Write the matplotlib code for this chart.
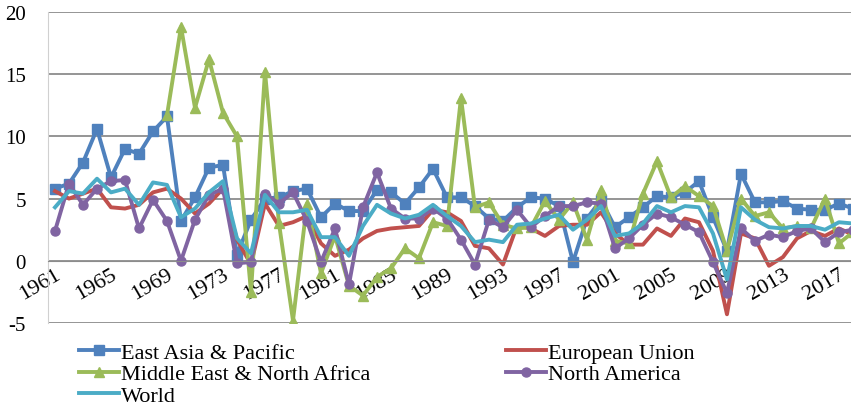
import numpy as np
import matplotlib
matplotlib.use('Agg')
import matplotlib.pyplot as plt

plt.rcParams['font.family'] = ['Liberation Serif', 'DejaVu Serif']
plt.rcParams['axes.unicode_minus'] = False

years = list(range(1961, 2019))

east_asia = [5.8, 6.2, 7.9, 10.6, 6.7, 9.0, 8.6, 10.4, 11.6, 3.2,
             5.1, 7.5, 7.7, 0.5, 3.3, 5.0, 5.1, 5.6, 5.8, 3.5,
             4.6, 4.0, 4.0, 5.7, 5.5, 4.6, 5.9, 7.4, 5.1, 5.1,
             4.4, 3.4, 3.2, 4.3, 5.1, 5.0, 4.4, -0.1, 3.4, 4.9,
             2.7, 3.5, 4.3, 5.2, 5.1, 5.5, 6.4, 3.5, 0.8, 7.0,
             4.7, 4.7, 4.8, 4.2, 4.1, 4.1, 4.6, 4.2]

european_union = [5.6, 5.0, 5.4, 5.8, 4.3, 4.2, 4.5, 5.5, 5.8, 5.0,
                  3.8, 4.6, 5.8, 1.7, -0.3, 4.6, 2.8, 3.1, 3.6, 1.4,
                  0.4, 0.9, 1.8, 2.4, 2.6, 2.7, 2.8, 4.1, 3.9, 3.2,
                  1.2, 1.0, -0.3, 2.8, 2.6, 2.0, 2.8, 2.9, 2.9, 3.9,
                  2.2, 1.3, 1.3, 2.6, 2.0, 3.4, 3.1, 0.8, -4.3, 2.2,
                  1.8, -0.4, 0.3, 1.8, 2.4, 2.0, 2.6, 2.1]

mena = [np.nan] * 8 + [
        11.7, 18.8,
        12.3, 16.2, 11.9, 10.0, -2.5, 15.2, 3.0, -4.8, 4.6, -1.0,
        2.0, -2.0, -2.8, -1.3, -0.6, 1.0, 0.2, 3.1, 2.8, 13.1,
        4.3, 4.7, 2.9, 2.6, 2.7, 4.8, 3.3, 4.7, 1.7, 5.7,
        1.6, 1.4, 5.4, 8.0, 5.1, 6.0, 5.2, 4.4, 0.8, 5.0,
        3.6, 3.9, 2.6, 2.8, 2.6, 5.0, 1.4, 2.3]

north_america = [2.4, 6.2, 4.5, 5.8, 6.4, 6.5, 2.6, 4.9, 3.2, 0.0,
                 3.3, 5.3, 5.8, -0.2, -0.1, 5.4, 4.6, 5.5, 3.2, -0.1,
                 2.6, -1.9, 4.3, 7.1, 4.2, 3.4, 3.4, 4.2, 3.4, 1.7,
                 -0.3, 3.3, 2.7, 4.1, 2.7, 3.6, 4.4, 4.4, 4.7, 4.6,
                 1.0, 1.8, 2.9, 3.8, 3.5, 2.9, 2.3, -0.1, -2.6, 2.6,
                 1.6, 2.1, 1.9, 2.4, 2.6, 1.5, 2.3, 2.5]

world = [4.3, 5.6, 5.4, 6.6, 5.5, 5.8, 4.5, 6.3, 6.1, 3.5,
         4.2, 5.5, 6.4, 1.8, 0.6, 5.3, 3.9, 3.9, 4.1, 1.9,
         1.9, 0.4, 2.8, 4.5, 3.8, 3.4, 3.7, 4.5, 3.6, 2.8,
         1.5, 1.7, 1.5, 2.9, 3.0, 3.4, 3.7, 2.5, 3.3, 4.4,
         2.0, 2.2, 3.0, 4.4, 3.9, 4.4, 4.3, 2.2, -1.5, 4.3,
         3.3, 2.7, 2.6, 2.8, 2.8, 2.5, 3.1, 3.0]

tick_years = list(range(1961, 2018, 4))

fig = plt.figure(figsize=(8.51, 4.06), dpi=100)
ax = fig.add_axes([48 / 851, 82 / 406, 803 / 851, 311 / 406])

lw = 2.8
l1, = ax.plot(years, east_asia, color='#4F81BD', lw=lw, marker='s', ms=6.5, label='East Asia & Pacific')
l2, = ax.plot(years, european_union, color='#C0504D', lw=lw, label='European Union')
l3, = ax.plot(years, mena, color='#9BBB59', lw=lw, marker='^', ms=7, label='Middle East & North Africa')
l4, = ax.plot(years, north_america, color='#8064A2', lw=lw, marker='o', ms=6.5, label='North America')
l5, = ax.plot(years, world, color='#4BACC6', lw=lw, label='World')

# x axis crosses at 0 (set before tick labels, it resets the ticks)
ax.spines['bottom'].set_position(('data', 0))
ax.spines['bottom'].set_color('#8c8c8c')
ax.spines['top'].set_visible(False)
ax.spines['right'].set_visible(False)
ax.spines['left'].set_color('#d0d0d0')

ax.set_xlim(1960.5, 2017.86)
ax.set_ylim(-5, 20)
ax.set_yticks([-5, 0, 5, 10, 15, 20])
ax.yaxis.grid(True, color='#8c8c8c', lw=1.3)
ax.set_axisbelow(True)

ax.tick_params(axis='x', length=0, pad=3, labelsize=16)
ax.tick_params(axis='y', length=0, pad=16, labelsize=15)
ax.set_xticks(tick_years)
ax.set_xticklabels([str(y) for y in tick_years], rotation=30, ha='right', va='top',
                   rotation_mode='anchor')

fig.legend(handles=[l1, l3, l5, l2, l4], loc='upper left', bbox_to_anchor=(0.093, 0.155),
           ncol=2, frameon=False, fontsize=16, handlelength=1.8, handletextpad=0.09,
           labelspacing=0.05, columnspacing=6.1, borderpad=0, borderaxespad=0)

fig.savefig('out.png', dpi=100)
